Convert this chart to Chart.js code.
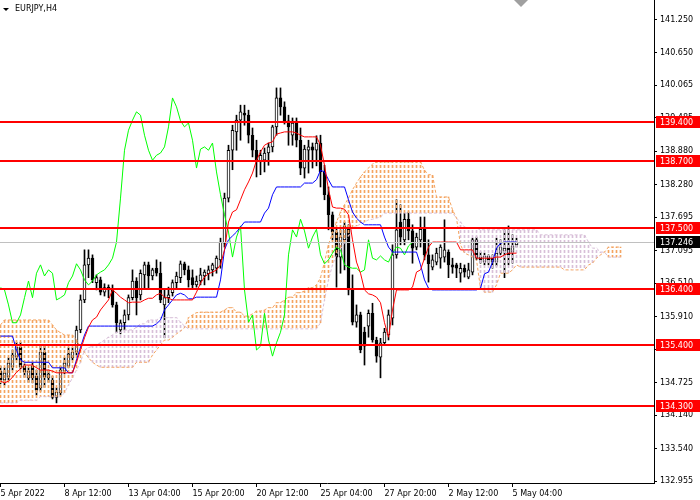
<!DOCTYPE html>
<html>
<head>
<meta charset="utf-8">
<script src="https://cdn.jsdelivr.net/npm/chart.js@4.4.1/dist/chart.umd.min.js"></script>
<style>
  html, body { margin: 0; padding: 0; background: #fff; }
</style>
</head>
<body>
<canvas id="chart" width="700" height="500"></canvas>
<script>
// EURJPY H4, 130 bars, bar 0 = first visible bar
const opens = [
  134.93,134.77,134.82,135.00,135.18,135.36,135.02,134.81,135.02,134.84,
  134.63,135.27,134.81,134.77,134.46,134.54,134.93,135.02,135.17,135.27,
  135.67,136.21,136.84,136.96,136.52,136.57,136.35,136.44,136.39,136.12,
  135.67,135.80,135.94,136.25,136.55,136.30,136.66,136.84,136.64,136.78,
  136.69,136.12,136.25,136.34,136.52,136.61,136.86,136.75,136.61,136.48,
  136.55,136.64,136.68,136.75,136.78,136.93,137.23,138.04,138.90,139.23,
  139.44,139.57,139.53,139.17,138.90,138.69,138.72,138.85,138.96,139.32,
  139.84,139.68,139.43,139.17,139.39,139.08,138.58,138.90,138.96,138.90,
  139.03,138.51,138.10,137.74,137.43,136.98,137.29,137.50,136.39,135.81,
  135.94,135.63,135.74,135.97,135.49,135.18,135.44,135.58,135.88,137.02,
  137.61,137.29,137.66,137.45,137.16,137.29,137.48,137.02,136.80,136.89,
  136.96,136.98,137.07,136.84,136.84,136.69,136.78,136.62,136.71,137.29,
  136.98,136.89,137.00,136.96,136.89,137.05,137.09,137.14,137.07,137.20
];
const highs = [
  135.02,134.99,135.17,135.31,135.45,135.45,135.06,134.99,135.08,134.95,
  135.40,135.40,134.95,134.84,134.63,135.02,135.17,135.35,135.35,135.74,
  136.30,137.11,137.11,137.02,136.66,136.62,136.50,136.48,136.48,136.17,
  135.85,136.03,136.30,136.75,136.61,136.75,136.89,136.89,136.78,136.93,
  136.89,136.39,136.44,136.57,136.71,136.91,136.89,136.82,136.75,136.64,
  136.78,136.75,136.82,136.87,137.00,137.32,138.13,138.99,139.35,139.53,
  139.71,139.71,139.62,139.30,139.08,138.90,138.94,139.03,139.35,140.02,
  140.02,139.77,139.53,139.48,139.48,139.30,138.99,139.08,139.03,139.16,
  139.17,138.63,138.24,137.79,137.50,137.47,137.61,137.56,136.66,136.12,
  135.99,135.72,136.03,136.15,135.54,135.52,135.70,136.03,137.20,138.01,
  137.92,137.77,137.79,137.56,137.41,137.70,137.70,137.29,137.02,137.14,
  137.20,137.65,137.11,136.96,136.87,136.87,136.84,136.87,137.32,137.34,
  137.07,137.05,137.02,137.02,137.32,137.29,137.47,137.54,137.38,137.32
];
const lows = [
  134.70,134.68,134.77,134.95,135.13,134.97,134.82,134.73,134.72,134.50,
  134.57,134.64,134.73,134.43,134.36,134.50,134.88,134.99,135.13,135.22,
  135.62,136.16,136.61,136.52,136.39,136.30,136.28,136.25,136.08,135.62,
  135.60,135.67,135.85,136.21,135.94,136.21,136.43,136.43,136.57,136.64,
  136.16,135.53,136.16,136.28,136.43,136.52,136.66,136.44,136.43,136.44,
  136.48,136.48,136.57,136.64,136.69,136.78,137.16,137.97,138.55,138.90,
  139.08,139.35,139.03,138.78,138.42,138.46,138.51,138.63,138.87,139.17,
  139.53,139.37,138.99,138.99,138.96,138.46,138.40,138.49,138.58,138.62,
  138.24,138.01,137.47,137.29,136.44,136.69,136.75,136.30,135.76,135.72,
  135.26,135.04,135.54,135.45,135.09,134.81,135.40,135.49,135.76,136.96,
  137.20,137.20,137.29,136.87,137.11,137.16,136.93,136.53,136.75,136.84,
  136.78,136.89,136.61,136.69,136.61,136.53,136.62,136.59,136.66,136.93,
  136.87,136.84,136.84,136.78,136.82,137.02,136.61,136.84,136.87,137.16
];
const closes = [
  134.77,134.90,135.08,135.22,135.36,135.00,134.91,134.93,134.81,134.59,
  135.27,134.82,134.88,134.46,134.55,134.95,135.08,135.24,135.27,135.67,
  136.21,136.84,136.96,136.57,136.61,136.35,136.43,136.39,136.12,135.80,
  135.80,135.94,136.25,136.55,136.25,136.69,136.84,136.64,136.75,136.69,
  136.21,136.25,136.30,136.52,136.64,136.86,136.75,136.57,136.48,136.55,
  136.66,136.71,136.75,136.84,136.96,137.25,138.04,138.90,139.26,139.44,
  139.59,139.53,139.17,138.90,138.72,138.81,138.85,138.96,139.32,139.84,
  139.68,139.43,139.32,139.39,139.08,138.58,138.92,138.96,138.90,139.03,
  138.51,138.10,137.74,137.43,136.98,137.34,137.54,136.39,135.81,135.94,
  135.31,135.38,135.97,135.49,135.20,135.44,135.63,135.94,137.02,137.47,
  137.34,137.66,137.45,137.14,137.34,137.48,137.02,136.86,136.93,137.05,
  137.16,137.11,136.84,136.80,136.78,136.78,136.71,136.75,137.29,136.96,
  136.93,137.00,136.93,136.89,137.05,137.16,137.14,137.02,137.18,137.246
];

// Ichimoku lines
const tenkan = [
  134.75,134.72,134.75,134.82,134.91,134.97,135.04,135.04,135.04,134.99,
  134.95,134.95,134.95,134.93,134.90,134.90,134.90,134.90,134.90,135.09,
  135.31,135.53,135.72,135.85,135.90,136.03,136.12,136.21,136.39,136.33,
  136.26,136.21,136.16,136.17,136.17,136.17,136.21,136.24,136.24,136.30,
  136.33,136.26,136.24,136.21,136.21,136.21,136.21,136.21,136.21,136.35,
  136.51,136.62,136.68,136.71,136.75,136.84,137.11,137.61,137.79,137.83,
  138.01,138.19,138.33,138.49,138.72,138.87,138.99,139.03,139.05,139.19,
  139.21,139.23,139.23,139.23,139.21,139.17,139.14,139.14,139.14,139.14,
  138.99,138.63,138.19,137.88,137.86,137.86,137.84,137.74,137.29,136.89,
  136.69,136.39,136.32,136.30,136.26,136.16,135.80,135.54,136.03,136.39,
  136.39,136.39,136.39,136.44,136.71,136.75,136.96,137.16,137.25,137.25,
  137.25,137.25,137.25,137.25,137.25,137.11,137.11,137.11,137.11,136.96,
  136.96,136.96,136.96,136.96,136.98,136.98,137.02,137.05,137.05,137.05
];
const kijun = [
  135.56,135.56,135.56,135.56,135.31,135.13,135.09,135.09,135.09,135.09,
  135.09,135.09,135.09,134.99,134.99,134.99,134.99,134.90,134.90,135.13,
  135.36,135.58,135.74,135.74,135.74,135.74,135.74,135.74,135.74,135.74,
  135.74,135.74,135.74,135.74,135.74,135.74,135.74,135.74,135.74,135.78,
  135.85,136.03,136.12,136.21,136.30,136.33,136.30,136.23,136.23,136.26,
  136.26,136.26,136.26,136.26,136.26,136.57,137.11,137.29,137.36,137.43,
  137.52,137.61,137.61,137.61,137.61,137.61,137.77,137.86,138.10,138.24,
  138.24,138.24,138.24,138.24,138.24,138.24,138.31,138.31,138.31,138.37,
  138.54,138.51,138.37,138.24,138.24,138.24,138.24,138.01,137.79,137.68,
  137.61,137.56,137.56,137.56,137.56,137.56,137.34,137.16,137.07,137.07,
  137.07,137.07,137.07,137.07,137.07,136.84,136.57,136.42,136.39,136.39,
  136.39,136.39,136.39,136.39,136.39,136.39,136.39,136.39,136.39,136.39,
  136.42,136.68,136.71,136.89,137.14,137.23,137.25,137.25,137.25,137.25
];
// cloud spans, 156 bars (26 beyond the last candle)
const senkouA = [
  135.76,135.85,135.85,135.85,135.85,135.85,135.85,135.85,135.85,135.85,
  135.85,135.85,135.85,135.76,135.67,135.62,135.58,135.58,135.58,135.49,
  135.36,135.27,135.17,135.09,135.04,135.00,135.00,135.00,135.00,135.00,
  135.00,135.00,135.00,135.00,135.09,135.09,135.09,135.09,135.22,135.31,
  135.40,135.49,135.49,135.54,135.60,135.65,135.71,135.89,135.94,135.98,
  135.99,135.99,135.99,135.99,135.99,135.99,136.03,136.07,136.07,135.99,
  135.99,135.92,135.92,135.96,136.01,136.01,136.03,136.07,136.07,136.16,
  136.16,136.21,136.26,136.26,136.34,136.34,136.37,136.43,136.43,136.48,
  136.61,136.89,137.20,137.43,137.61,137.79,137.92,138.04,138.19,138.31,
  138.42,138.51,138.58,138.65,138.69,138.69,138.69,138.69,138.69,138.69,
  138.69,138.69,138.69,138.69,138.69,138.69,138.54,138.46,138.46,138.06,
  138.06,138.06,138.06,137.83,137.68,137.20,137.05,137.02,136.98,136.93,
  136.42,136.35,136.35,136.35,136.48,136.69,136.69,136.69,136.75,136.84,
  136.80,136.80,136.80,136.80,136.80,136.80,136.80,136.80,136.80,136.80,
  136.80,136.75,136.75,136.75,136.75,136.75,136.75,136.84,136.87,136.96,
  137.02,137.07,137.16,137.16,137.16,137.16
];
const senkouB = [
  134.36,134.36,134.36,134.36,134.36,134.41,134.41,134.41,134.41,134.41,
  134.47,134.47,134.47,134.47,134.47,134.47,134.54,134.68,134.81,134.95,
  135.09,135.31,135.35,135.38,135.40,135.44,135.49,135.54,135.58,135.63,
  135.63,135.67,135.67,135.67,135.72,135.78,135.78,135.85,135.85,135.85,
  135.89,135.89,135.89,135.89,135.89,135.81,135.74,135.69,135.69,135.69,
  135.69,135.69,135.69,135.69,135.69,135.69,135.69,135.69,135.69,135.69,
  135.69,135.69,135.69,135.69,135.69,135.69,135.69,135.69,135.69,135.69,
  135.69,135.69,135.69,135.69,135.69,135.69,135.69,135.69,135.69,135.69,
  135.80,136.21,136.57,136.84,137.02,137.13,137.23,137.36,137.50,137.54,
  137.57,137.61,137.65,137.66,137.68,137.70,137.77,137.77,137.77,137.77,
  137.77,137.77,137.77,137.77,137.77,137.77,137.77,137.77,137.77,137.77,
  137.77,137.77,137.77,137.77,137.68,137.61,137.52,137.50,137.50,137.50,
  137.47,137.47,137.47,137.47,137.47,137.47,137.47,137.47,137.47,137.47,
  137.47,137.47,137.47,137.47,137.47,137.38,137.38,137.38,137.38,137.38,
  137.38,137.38,137.38,137.38,137.38,137.38,137.38,137.25,137.14,137.14,
  137.07,137.07,136.98,136.98,136.98,136.98
];
const chikouShift = 26;

const levels = [139.40, 138.70, 137.50, 136.40, 135.40, 134.30];
const bid = closes[closes.length - 1];

const priceTicks = [141.25, 140.65, 140.065, 139.485, 138.88, 138.28, 137.695,
                    137.095, 136.51, 135.91, 135.325, 134.725, 134.14, 133.54, 132.955];
const dateTicks = [0, 16, 32, 48, 64, 80, 96, 112, 128];
const dateLabels = ['5 Apr 2022', '8 Apr 12:00', '13 Apr 04:00', '15 Apr 20:00', '20 Apr 12:00',
                    '25 Apr 04:00', '27 Apr 20:00', '2 May 12:00', '5 May 04:00'];

const FONT = { family: 'DejaVu Sans', size: 8 };
const canvas = document.getElementById('chart');
const ctx = canvas.getContext('2d');

// dotted hatch like the MT4 cloud histogram
function hatch(color) {
  const c = document.createElement('canvas');
  c.width = 1; c.height = 5;
  const g = c.getContext('2d');
  g.fillStyle = color;
  g.fillRect(0, 0, 1, 3);
  return ctx.createPattern(c, 'repeat');
}
const orangeHatch = hatch('#F4A460');
const purpleHatch = hatch('#D8BFD8');

const xy = arr => arr.map((v, i) => ({ x: i, y: v }));

const overlay = {
  id: 'overlay',
  afterDatasetsDraw(chart) {
    const { ctx: c, chartArea: a, scales: { y } } = chart;
    c.save();
    // bid line
    const by = Math.round(y.getPixelForValue(bid)) + 0.5;
    c.strokeStyle = '#C0C0C0';
    c.lineWidth = 1;
    c.beginPath(); c.moveTo(a.left, by); c.lineTo(a.right, by); c.stroke();
    // horizontal levels
    c.strokeStyle = '#FF0000';
    c.lineWidth = 2;
    levels.forEach(v => {
      const py = Math.round(y.getPixelForValue(v));
      c.beginPath(); c.moveTo(a.left, py); c.lineTo(a.right, py); c.stroke();
    });
    // price tags on the axis
    c.font = '8px "DejaVu Sans"';
    c.textBaseline = 'middle';
    c.textAlign = 'left';
    const tag = (v, bg) => {
      const py = Math.round(y.getPixelForValue(v));
      c.fillStyle = bg;
      c.fillRect(a.right + 2, py - 6, 44, 12);
      c.fillStyle = '#FFFFFF';
      c.fillText(v.toFixed(3), a.right + 6, py + 0.5);
    };
    levels.forEach(v => tag(v, '#FF0000'));
    tag(bid, '#000000');
    // symbol caption
    c.fillStyle = '#000';
    c.beginPath(); c.moveTo(3, 8); c.lineTo(9, 8); c.lineTo(6, 11); c.closePath(); c.fill();
    c.fillText('EURJPY,H4', 15, 9);
    // chart shift marker
    c.fillStyle = '#A0A0A0';
    c.beginPath(); c.moveTo(514, 0); c.lineTo(528, 0); c.lineTo(521, 7); c.closePath(); c.fill();
    c.restore();
  }
};

new Chart(ctx, {
  data: {
    datasets: [
      { // wicks
        type: 'bar', order: 9, grouped: false, barThickness: 1,
        data: highs.map((h, i) => ({ x: i, y: [lows[i], h] })),
        backgroundColor: '#000', borderWidth: 0
      },
      { // bodies
        type: 'bar', order: 8, grouped: false, barThickness: 3, minBarLength: 1,
        data: opens.map((o, i) => ({ x: i, y: [o, closes[i]] })),
        backgroundColor: closes.map((c, i) => (c >= opens[i] ? '#FFFFFF' : '#000000')),
        borderColor: '#000', borderWidth: 1, borderSkipped: false
      },
      { // kumo
        type: 'bar', order: 7, grouped: false, barThickness: 1,
        data: senkouA.map((a, i) => ({ x: i, y: [a, senkouB[i]] })),
        backgroundColor: senkouA.map((a, i) => (a >= senkouB[i] ? orangeHatch : purpleHatch)),
        borderWidth: 0
      },
      {
        type: 'line', order: 6, data: xy(senkouA),
        borderColor: '#F4A460', borderWidth: 1, borderDash: [3, 2], pointRadius: 0
      },
      {
        type: 'line', order: 5, data: xy(senkouB),
        borderColor: '#D8BFD8', borderWidth: 1, borderDash: [3, 2], pointRadius: 0
      },
      {
        type: 'line', order: 4,
        data: closes.slice(chikouShift).map((v, j) => ({ x: j, y: v })),
        borderColor: '#00FF00', borderWidth: 1, pointRadius: 0
      },
      {
        type: 'line', order: 3, data: xy(kijun),
        borderColor: '#0000FF', borderWidth: 1, pointRadius: 0
      },
      {
        type: 'line', order: 2, data: xy(tenkan),
        borderColor: '#FF0000', borderWidth: 1, pointRadius: 0
      }
    ]
  },
  options: {
    responsive: false,
    devicePixelRatio: 1,
    animation: false,
    layout: { padding: 0 },
    plugins: { legend: { display: false }, tooltip: { enabled: false } },
    elements: { line: { tension: 0 } },
    scales: {
      x: {
        type: 'linear', position: 'bottom', min: -0.125, max: 163.375,
        offset: false,
        afterBuildTicks: s => { s.ticks = dateTicks.map(v => ({ value: v })); },
        afterFit: s => { s.height = 17; s.paddingLeft = 0; s.paddingRight = 0; },
        ticks: {
          callback: (v, i) => dateLabels[i],
          align: 'start', maxRotation: 0, autoSkip: false, padding: 2,
          color: '#000', font: FONT
        },
        grid: { offset: false, drawOnChartArea: false, drawTicks: true, tickLength: 4, color: '#000' },
        border: { display: true, color: '#000' }
      },
      y: {
        type: 'linear', position: 'right', min: 132.92, max: 141.60,
        afterBuildTicks: s => { s.ticks = priceTicks.map(v => ({ value: v })); },
        afterFit: s => { s.width = 46; s.paddingTop = 0; s.paddingBottom = 0; },
        ticks: { callback: v => v.toFixed(3), padding: 3, color: '#000', font: FONT },
        grid: { drawOnChartArea: false, drawTicks: true, tickLength: 3, color: '#000' },
        border: { display: true, color: '#000' }
      }
    }
  },
  plugins: [overlay]
});
</script>
</body>
</html>
